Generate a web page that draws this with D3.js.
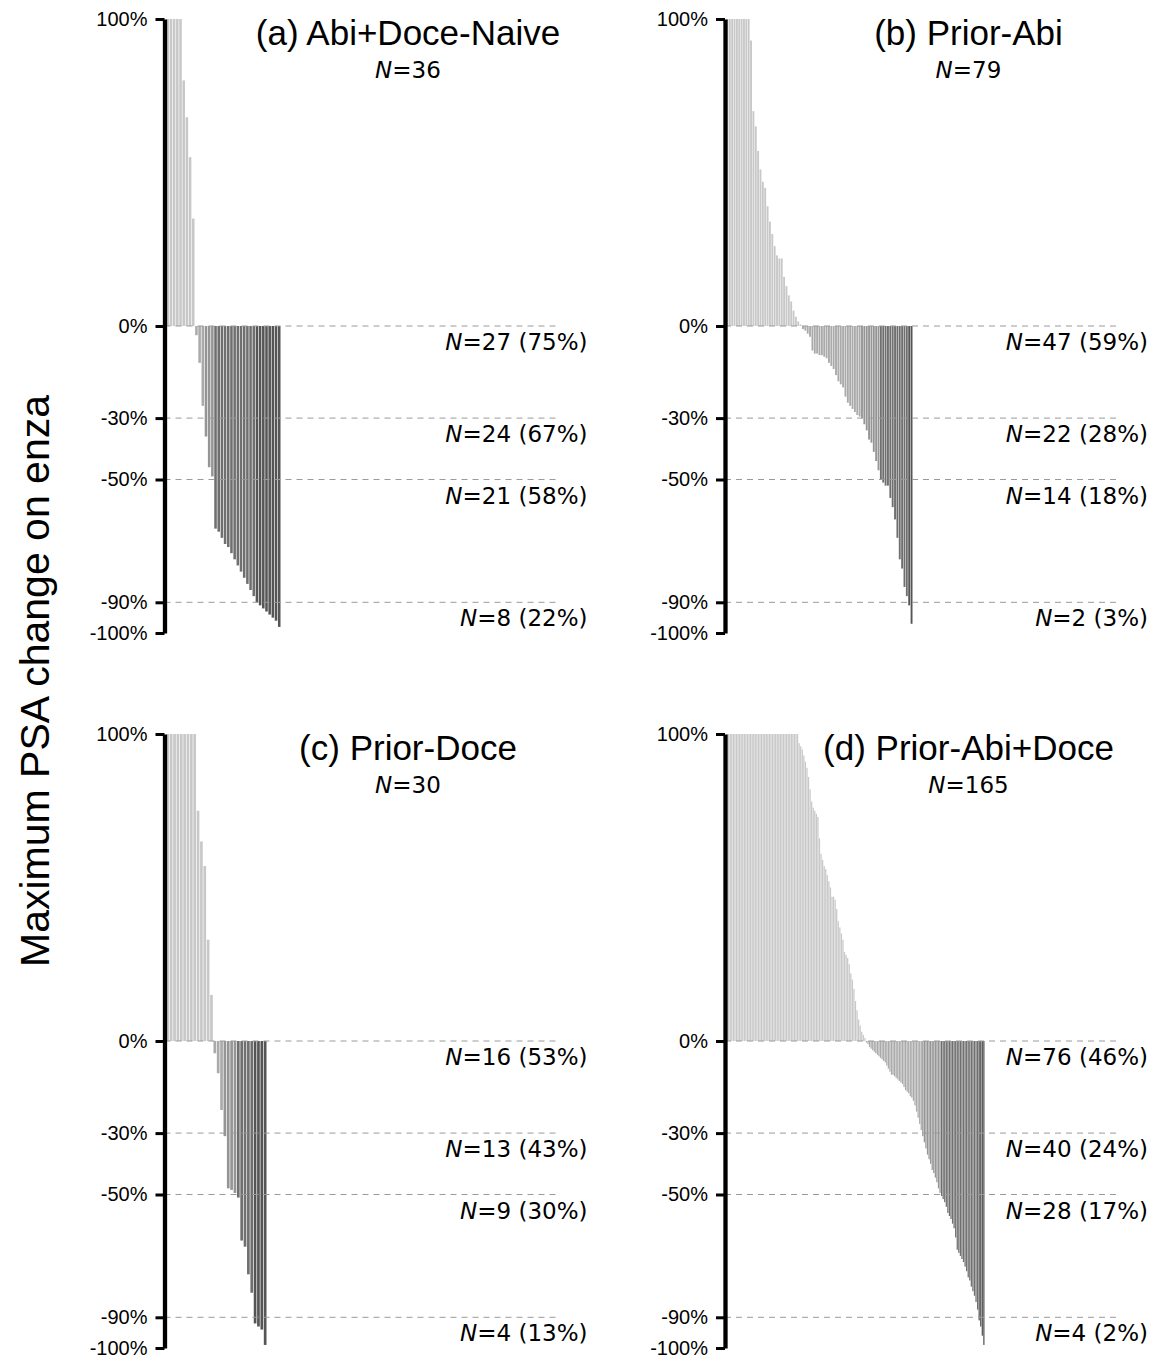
<!DOCTYPE html>
<html>
<head>
<meta charset="utf-8">
<script src="https://cdn.jsdelivr.net/npm/d3@7"></script>
<style>
  body { margin: 0; background: #fff; }
</style>
</head>
<body>
<div id="chart"></div>
<script>
// tick values on every y axis, and the response cut-offs marked by dashed lines
const yTicks = [100, 0, -30, -50, -90, -100];
const cutoffs = [0, -30, -50, -90];
const panelTitles = ["(a) Abi+Doce-Naive", "(b) Prior-Abi", "(c) Prior-Doce", "(d) Prior-Abi+Doce"];

// maximum PSA change (%) per patient, sorted, capped at 100
const valuesA = [100, 100, 100, 100, 100, 80, 68, 55, 35,
    -3, -12, -26, -36, -46, -49, -66, -67, -69, -71, -72, -74, -76, -78, -80, -82, -84, -86, -88,
    -90, -91, -92, -93, -94, -95, -96, -98];

const valuesB = [100, 100, 100, 100, 100, 100, 100, 100, 100, 100,
    93, 70, 65, 57, 51, 47, 45, 39, 34, 30, 26, 23, 22, 22, 16, 13, 10, 8, 5, 3, 1.5, 0.5,
    -1, -1.5, -2.5, -3.5, -8, -9, -9, -9.5, -9.5, -10, -10.5, -12, -13, -14, -16, -18, -19, -20,
    -23, -25, -26, -27, -28, -29, -29.5, -30, -32, -34, -37, -38, -41, -44, -47,
    -50, -51, -52, -52, -56, -59, -63, -69, -76, -79, -85, -88, -91, -97];

const valuesC = [100, 100, 100, 100, 100, 100, 100, 100, 100, 75, 65, 57, 33, 15,
    -4, -10.5, -22.5, -31, -48, -48.5, -49.5, -51, -65, -67, -76, -82, -92, -93, -94, -99];

const valuesD = [100, 100, 100, 100, 100, 100, 100, 100, 100, 100,
    100, 100, 100, 100, 100, 100, 100, 100, 100, 100,
    100, 100, 100, 100, 100, 100, 100, 100, 100, 100,
    100, 100, 100, 100, 100, 100, 100, 100, 100, 100,
    100, 100, 100, 100, 100, 100,
    97, 96, 95, 93, 91, 89, 86, 82, 78, 76, 75, 74, 73, 66, 61, 59, 57, 56, 54, 52, 50,
    47, 47, 46, 43, 39, 37, 35, 33, 29, 28, 27, 25, 22, 20, 17, 13, 10, 7, 5, 3, 2, 1,
    -0.5, -1, -2, -2.5, -3, -3.5, -4, -4.5, -5, -5.5, -6, -6.5, -7, -8, -9, -10, -11, -11,
    -11.5, -12, -12.5, -13, -13.5, -14, -15, -16, -16.5, -17, -18, -18.5, -19.5, -21, -23, -25, -27, -29,
    -31, -33, -35, -37, -38.5, -40, -42, -43, -44.5, -46, -48, -49.5,
    -50.5, -51.5, -52.5, -54, -56, -57, -58, -59.5, -61, -64, -68, -69, -70, -71, -72, -73.5,
    -75, -77, -78, -80, -81.5, -83, -85, -87.5,
    -91, -93, -96, -99];

// where each panel sits on the page
const panels = [
    { title: panelTitles[0], values: valuesA, axisX: 164.5, top: 19, barStart: 166.5, barEnd: 280.5 },
    { title: panelTitles[1], values: valuesB, axisX: 725, top: 19, barStart: 726.5, barEnd: 912.5 },
    { title: panelTitles[2], values: valuesC, axisX: 164.5, top: 734, barStart: 166.5, barEnd: 266.5 },
    { title: panelTitles[3], values: valuesD, axisX: 725, top: 734, barStart: 726.5, barEnd: 984.5 },
];

const width = 1163, height = 1359;
const plotHeight = 614, guideLength = 396, labelOffset = 423, titleOffset = 243.5;

const sansFont = "'Liberation Sans', Arial, Helvetica, sans-serif";
const dejaFont = "'DejaVu Sans', sans-serif";

const barColor = (v) => {
    if (v > 0) return "#c8c8c8";
    if (v > -30) return "#aaaaaa";
    if (v > -50) return "#959595";
    if (v > -90) return "#6f6f6f";
    return "#555555";
};

const svg = d3.select("#chart")
    .append("svg")
    .attr("width", width)
    .attr("height", height);

panels.forEach((p) => {
    const g = svg.append("g");
    const n = p.values.length;

    const y = d3.scaleLinear()
        .domain([-100, 100])
        .range([p.top + plotHeight, p.top]);

    const x = d3.scaleBand()
        .domain(d3.range(n))
        .range([p.barStart, p.barEnd])
        .paddingInner(0.2)
        .paddingOuter(0);

    // waterfall bars
    g.selectAll("rect.bar")
        .data(p.values)
        .enter()
        .append("rect")
        .attr("class", "bar")
        .attr("x", (d, i) => x(i))
        .attr("width", x.bandwidth())
        .attr("y", (d) => y(Math.max(d, 0)))
        .attr("height", (d) => Math.abs(y(d) - y(0)))
        .attr("fill", barColor);

    // dashed guide lines at the cut-offs
    g.selectAll("line.guide")
        .data(cutoffs)
        .enter()
        .append("line")
        .attr("class", "guide")
        .attr("x1", p.axisX)
        .attr("x2", p.axisX + guideLength)
        .attr("y1", (d) => y(d))
        .attr("y2", (d) => y(d))
        .attr("stroke", "#9a9a9a")
        .attr("stroke-width", 1)
        .attr("stroke-dasharray", "6,5");

    // y axis
    const axis = g.append("g")
        .attr("transform", `translate(${p.axisX},0)`)
        .call(d3.axisLeft(y)
            .tickValues(yTicks)
            .tickFormat((d) => d + "%")
            .tickSize(9)
            .tickSizeOuter(0)
            .tickPadding(8));
    axis.select(".domain")
        .attr("stroke", "#000")
        .attr("stroke-width", 4.3);
    axis.selectAll(".tick line")
        .attr("stroke", "#000")
        .attr("stroke-width", 3);
    axis.selectAll(".tick text")
        .attr("fill", "#000")
        .style("font-family", sansFont)
        .style("font-size", "20px");

    // counts of patients at or below each cut-off
    const counts = cutoffs.map((c) => {
        const k = c === 0 ? p.values.filter((v) => v < 0).length : p.values.filter((v) => v <= c).length;
        return { cut: c, k: k, pct: Math.round(100 * k / n) };
    });

    const labels = g.selectAll("text.count")
        .data(counts)
        .enter()
        .append("text")
        .attr("class", "count")
        .attr("x", p.axisX + labelOffset)
        .attr("y", (d) => y(d.cut) + 24)
        .attr("text-anchor", "end")
        .style("font-family", dejaFont)
        .style("font-size", "23px")
        .attr("fill", "#000");
    labels.append("tspan").style("font-style", "italic").text("N");
    labels.append("tspan").text((d) => `=${d.k} (${d.pct}%)`);

    // panel title and sample size
    g.append("text")
        .attr("x", p.axisX + titleOffset)
        .attr("y", p.top + 26)
        .attr("text-anchor", "middle")
        .style("font-family", sansFont)
        .style("font-size", "35px")
        .text(p.title);

    const sub = g.append("text")
        .attr("x", p.axisX + titleOffset)
        .attr("y", p.top + 59)
        .attr("text-anchor", "middle")
        .style("font-family", dejaFont)
        .style("font-size", "23px");
    sub.append("tspan").style("font-style", "italic").text("N");
    sub.append("tspan").text("=" + n);
});

// shared y label
svg.append("text")
    .attr("transform", "translate(49,681) rotate(-90)")
    .attr("text-anchor", "middle")
    .style("font-family", sansFont)
    .style("font-size", "41px")
    .text("Maximum PSA change on enza");
</script>
</body>
</html>
